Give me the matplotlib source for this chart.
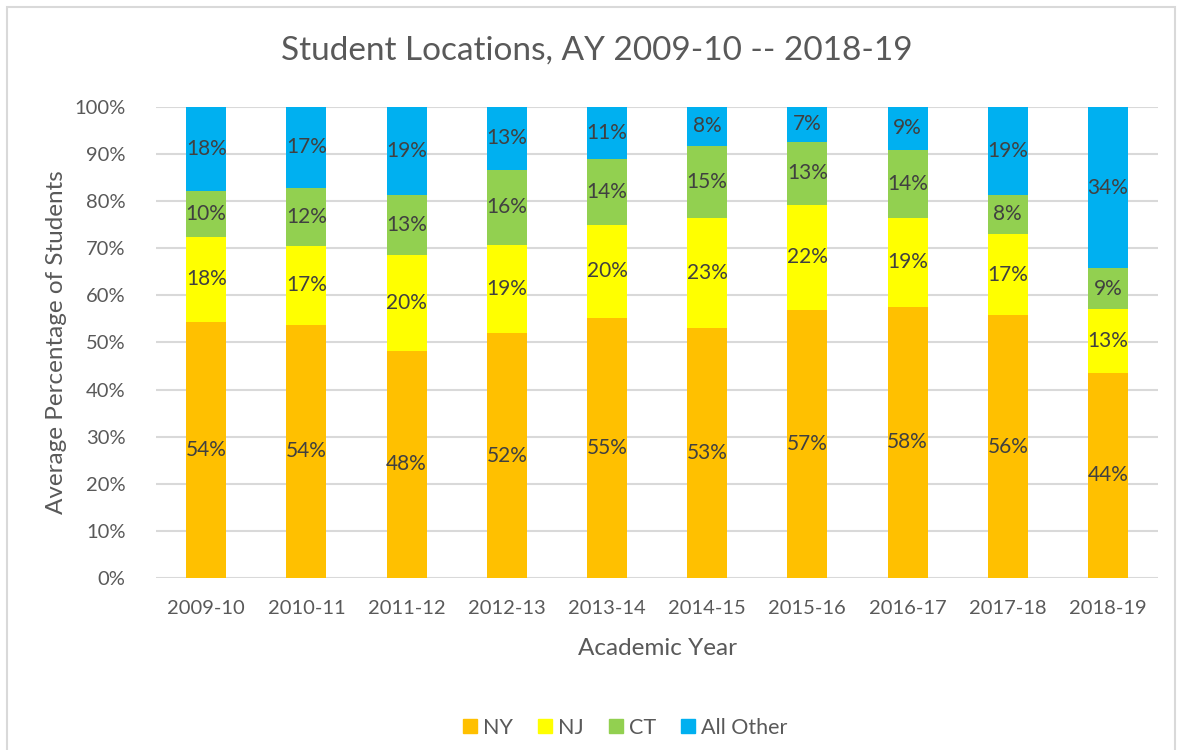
import matplotlib
matplotlib.use('Agg')
import matplotlib.pyplot as plt
from matplotlib.patches import Rectangle, Patch
import numpy as np

plt.rcParams['font.family'] = ['Lato', 'DejaVu Sans']

# Data (percent of students per year)
years = ['2009-10', '2010-11', '2011-12', '2012-13', '2013-14',
         '2014-15', '2015-16', '2016-17', '2017-18', '2018-19']
ny = [54.4, 53.8, 48.3, 52.0, 55.2, 53.1, 56.9, 57.6, 55.8, 43.6]
nj = [18.0, 16.6, 20.3, 18.7, 19.8, 23.3, 22.3, 18.9, 17.2, 13.4]
ct = [9.7, 12.4, 12.6, 15.9, 14.0, 15.3, 13.4, 14.4, 8.3, 8.7]
other = [17.9, 17.2, 18.8, 13.4, 11.0, 8.3, 7.4, 9.1, 18.7, 34.3]

series = [('NY', ny, '#FFC000'), ('NJ', nj, '#FFFF00'),
          ('CT', ct, '#92D050'), ('All Other', other, '#00B0F0')]

fig = plt.figure(figsize=(11.84, 7.5), dpi=100)
ax = fig.add_axes([0.1318, 0.229, 0.8463, 0.6287])

x = np.arange(len(years))
bottom = np.zeros(len(years))
for name, vals, color in series:
    vals = np.array(vals)
    ax.bar(x, vals, 0.4, bottom=bottom, color=color, label=name, zorder=2)
    for xi, b, v in zip(x, bottom, vals):
        ax.text(xi, b + v / 2, f'{round(v)}%', ha='center', va='center',
                fontsize=15, color='#404040', zorder=3)
    bottom += vals

ax.set_xlim(-0.5, len(years) - 0.5)
ax.set_ylim(0, 100)
ax.set_yticks(range(0, 101, 10))
ax.set_yticklabels([f'{t}%' for t in range(0, 101, 10)])
ax.set_xticks(x)
ax.set_xticklabels(years)
ax.tick_params(length=0, labelsize=14.5, labelcolor='#595959')
ax.tick_params(axis='y', pad=22)
ax.tick_params(axis='x', pad=16)
ax.grid(axis='y', color='#D9D9D9', linewidth=1.5, zorder=0)
for s in ax.spines.values():
    s.set_visible(False)

ax.set_xlabel('Academic Year', fontsize=17.5, color='#595959', labelpad=15)
ax.set_ylabel('Average Percentage of Students', fontsize=17.5, color='#595959', labelpad=5)
fig.text(0.504, 0.932, 'Student Locations, AY 2009-10 -- 2018-19', ha='center', va='center',
         fontsize=24, color='#595959')

handles = [Patch(color=c, label=n) for n, _, c in series]
fig.legend(handles=handles, loc='center', bbox_to_anchor=(0.528, 0.03), ncol=4,
           frameon=False, fontsize=15.5, labelcolor='#595959',
           handlelength=0.65, handleheight=0.65, handletextpad=0.3, columnspacing=1.15)

fig.patches.append(Rectangle((7 / 1184, -0.05), 1168 / 1184, 1.05 - 7 / 750,
                             transform=fig.transFigure, fill=False,
                             edgecolor='#D9D9D9', linewidth=1.5))

fig.savefig('out.png', dpi=100)
